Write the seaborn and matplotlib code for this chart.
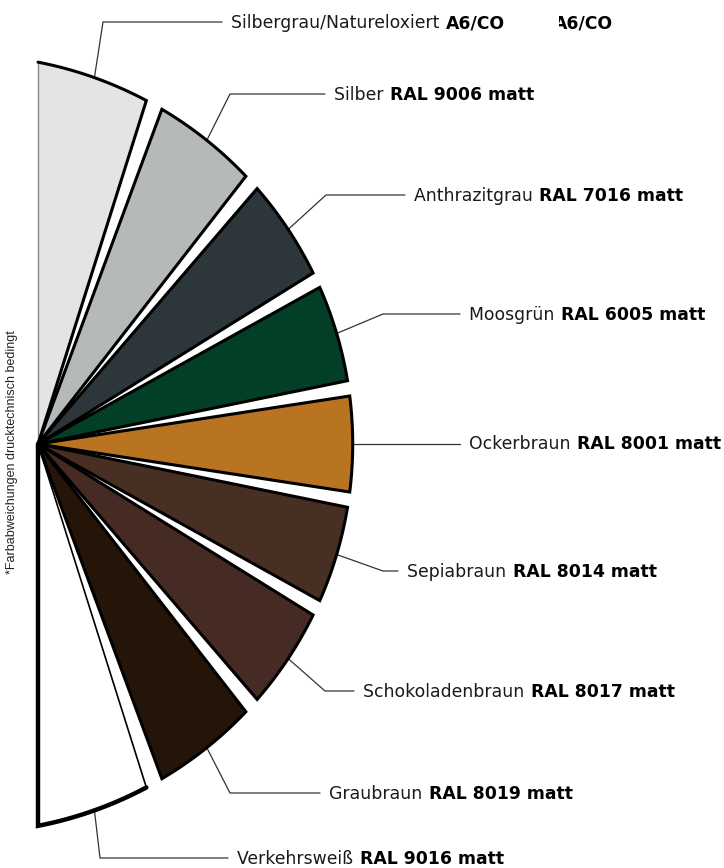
import numpy as np
import seaborn as sns
import matplotlib.pyplot as plt
from matplotlib.patches import Rectangle

# colour swatches, top to bottom
names = ["Silbergrau/Natureloxiert", "Silber", "Anthrazitgrau", "Moosgrün", "Ockerbraun",
         "Sepiabraun", "Schokoladenbraun", "Graubraun", "Verkehrsweiß"]
codes = ["A6/CO", "RAL 9006 matt", "RAL 7016 matt", "RAL 6005 matt", "RAL 8001 matt",
         "RAL 8014 matt", "RAL 8017 matt", "RAL 8019 matt", "RAL 9016 matt"]
colors = ["#e4e4e4", "#b5b9ba", "#2c363b", "#033f26", "#b87421",
          "#482f23", "#462b24", "#251509", "#ffffff"]
shares = [1, 1, 1, 1, 1, 1, 1, 1, 1]
note = "*Farbabweichungen drucktechnisch bedingt"

# layout (pixel units)
pivot = np.array([38.0, 444.0])
arc_c = np.array([-36.3, 444.0])
arc_r = 389.0
gap = 2.8
label_y = [22, 94, 195, 314, 443, 571, 691, 793, 858]
elbow_x = [103, 230, 326, 383, None, 383, 325, 230, 100]
line_end = [222, 325, 405, 460, 460, 398, 354, 320, 228]
fs = 12.4

sns.set_style("white")
plt.rcParams["font.family"] = ["DejaVu Sans"]

fig = plt.figure(figsize=(7.24, 8.68), dpi=100)
ax = fig.add_axes([0, 0, 1, 1])
ax.set_xlim(0, 724)
ax.set_ylim(868, 0)
ax.axis("off")


def ray_point(deg):
    u = np.array([np.cos(np.radians(deg)), -np.sin(np.radians(deg))])
    d = pivot - arc_c
    du = d @ u
    t = -du + np.sqrt(du ** 2 - d @ d + arc_r ** 2)
    return pivot + t * u


share = np.array(shares, float)
span = 180 - gap * (len(share) - 1)
widths = share / share.sum() * span
starts = 90 - np.concatenate([[0], np.cumsum(widths + gap)[:-1]])

for i, (a0, w, col) in enumerate(zip(starts, widths, colors)):
    arc = np.array([ray_point(a) for a in np.linspace(a0, a0 - w, 60)])
    poly = np.vstack([pivot, arc])
    ax.fill(poly[:, 0], poly[:, 1], color=col, lw=0, zorder=2)
    if i == 0:
        ax.plot([pivot[0], arc[0, 0]], [pivot[1], arc[0, 1]], color="#8a8a8a", lw=1, zorder=3)
        out = np.vstack([arc, pivot])
        ax.plot(out[:, 0], out[:, 1], color="black", lw=2.2, zorder=3, solid_joinstyle="miter")
    elif i == len(share) - 1:
        ax.plot([pivot[0], arc[0, 0]], [pivot[1], arc[0, 1]], color="black", lw=1.2, zorder=3)
        out = np.vstack([arc, pivot])
        ax.plot(out[:, 0], out[:, 1], color="black", lw=3.2, zorder=3, solid_joinstyle="miter")
    else:
        out = np.vstack([pivot, arc, pivot])
        ax.plot(out[:, 0], out[:, 1], color="black", lw=2.2, zorder=3, solid_joinstyle="miter")

    # leader line from arc middle
    m = ray_point(a0 - w / 2)
    if elbow_x[i] is None:
        xs, ys = [m[0], line_end[i]], [m[1], m[1]]
    else:
        xs = [m[0], elbow_x[i], line_end[i]]
        ys = [m[1], label_y[i], label_y[i]]
    ax.plot(xs, ys, color="#333333", lw=0.9, zorder=1)

fig.canvas.draw()
rend = fig.canvas.get_renderer()
inv = ax.transData.inverted()
for i in range(len(names)):
    yb = label_y[i] + 6
    t = ax.text(line_end[i] + 9, yb, names[i] + " ", fontsize=fs,
                fontweight="normal", color="#1a1a1a", va="baseline")
    bb = t.get_window_extent(rend)
    x1 = inv.transform((bb.x1, bb.y0))[0]
    ax.text(x1 + 1, yb, codes[i], fontsize=fs, fontweight="bold",
            color="black", va="baseline")

# clipped duplicate of the first code
dup = ax.text(613, label_y[0] + 6, codes[0], fontsize=fs, fontweight="bold",
              color="black", va="baseline", ha="right")
clip = Rectangle((559, 0), 200, 60, transform=ax.transData, fill=False, lw=0)
ax.add_patch(clip)
dup.set_clip_on(True)
dup.set_clip_path(clip)

ax.text(12, 452, note, rotation=90, fontsize=9, color="#222222", va="center", ha="center",
        family=["Liberation Sans", "DejaVu Sans"])

fig.savefig("out.png", dpi=100)
